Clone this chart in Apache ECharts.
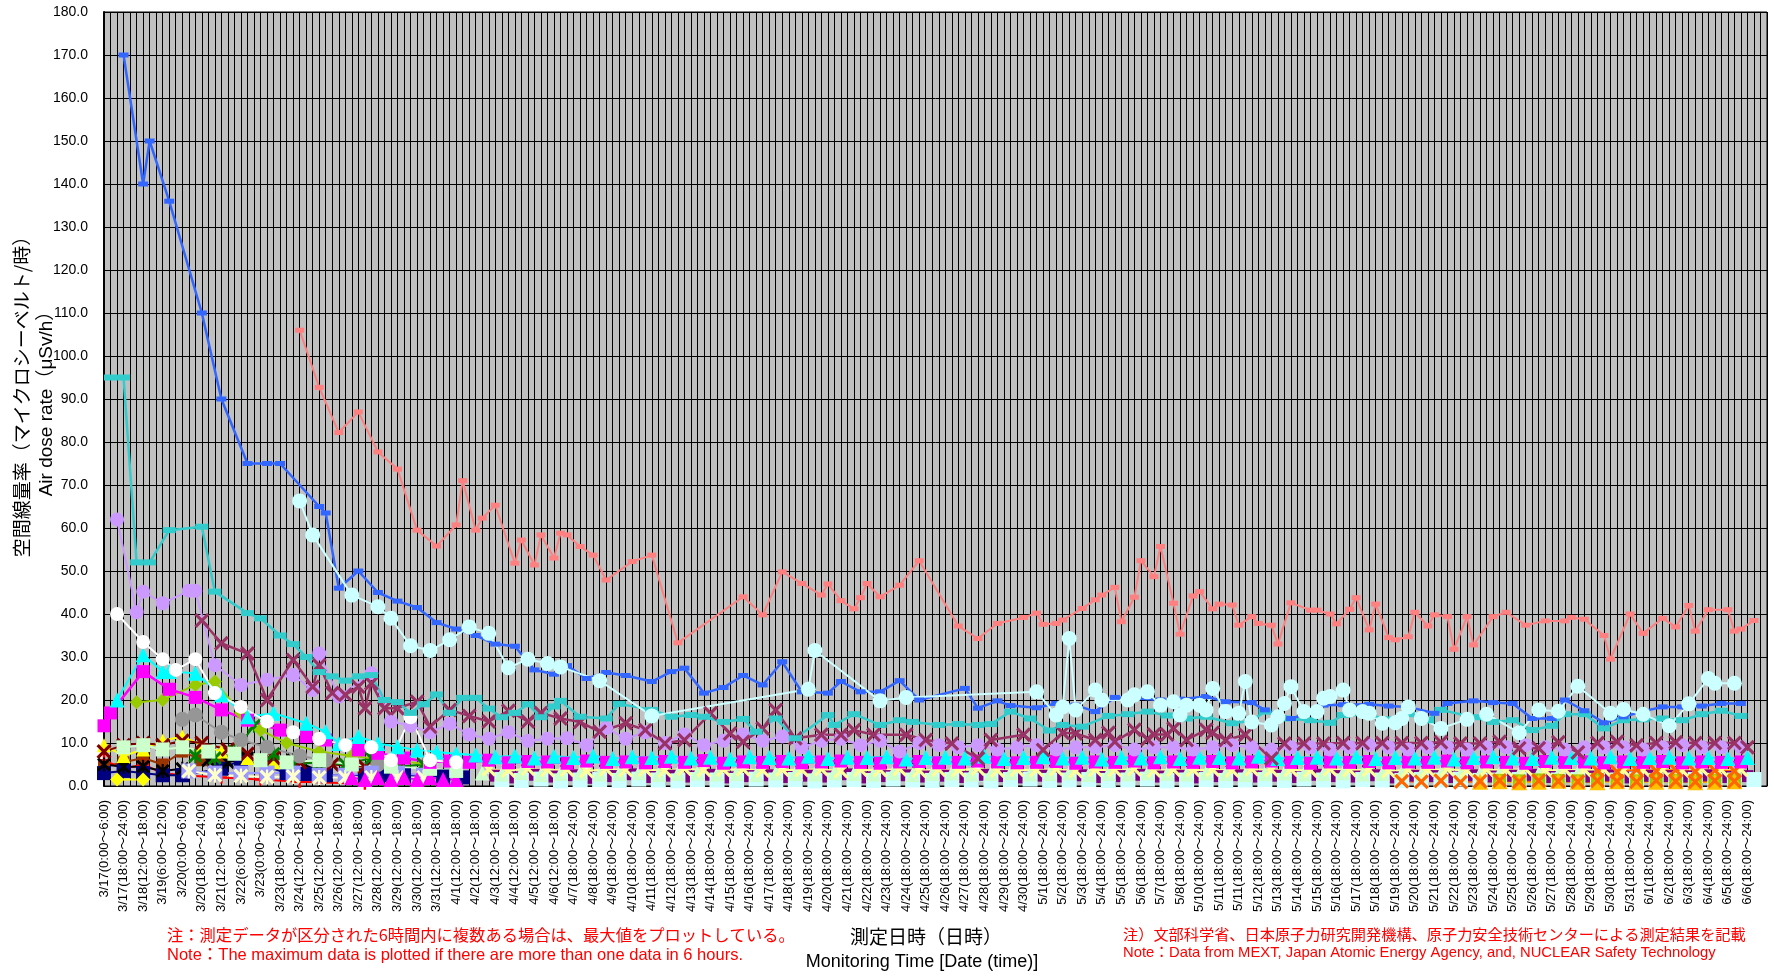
<!DOCTYPE html>
<html>
<head>
<meta charset="utf-8">
<title>空間線量率</title>
<script src="https://cdn.jsdelivr.net/npm/echarts@6/dist/echarts.min.js"></script>
<style>
  html, body { margin: 0; padding: 0; background: #fff; }
  #chart { width: 1774px; height: 976px; }
</style>
</head>
<body>
<div id="chart"></div>
<script>
// tick labels, one every 3 slots
const labels = [
  '3/17(0:00～6:00)', '3/17(18:00～24:00)', '3/18(12:00～18:00)', '3/19(6:00～12:00)', '3/20(0:00～6:00)',
  '3/20(18:00～24:00)', '3/21(12:00～18:00)', '3/22(6:00～12:00)', '3/23(0:00～6:00)', '3/23(18:00～24:00)',
  '3/24(12:00～18:00)', '3/25(12:00～18:00)', '3/26(12:00～18:00)', '3/27(12:00～18:00)', '3/28(12:00～18:00)',
  '3/29(12:00～18:00)', '3/30(12:00～18:00)', '3/31(12:00～18:00)', '4/1(12:00～18:00)', '4/2(12:00～18:00)',
  '4/3(12:00～18:00)', '4/4(12:00～18:00)', '4/5(12:00～18:00)', '4/6(12:00～18:00)', '4/7(18:00～24:00)',
  '4/8(18:00～24:00)', '4/9(18:00～24:00)', '4/10(18:00～24:00)', '4/11(18:00～24:00)', '4/12(18:00～24:00)',
  '4/13(18:00～24:00)', '4/14(18:00～24:00)', '4/15(18:00～24:00)', '4/16(18:00～24:00)', '4/17(18:00～24:00)',
  '4/18(18:00～24:00)', '4/19(18:00～24:00)', '4/20(18:00～24:00)', '4/21(18:00～24:00)', '4/22(18:00～24:00)',
  '4/23(18:00～24:00)', '4/24(18:00～24:00)', '4/25(18:00～24:00)', '4/26(18:00～24:00)', '4/27(18:00～24:00)',
  '4/28(18:00～24:00)', '4/29(18:00～24:00)', '4/30(18:00～24:00)', '5/1(18:00～24:00)', '5/2(18:00～24:00)',
  '5/3(18:00～24:00)', '5/4(18:00～24:00)', '5/5(18:00～24:00)', '5/6(18:00～24:00)', '5/7(18:00～24:00)',
  '5/8(18:00～24:00)', '5/10(18:00～24:00)', '5/11(18:00～24:00)', '5/11(18:00～24:00)', '5/12(18:00～24:00)',
  '5/13(18:00～24:00)', '5/14(18:00～24:00)', '5/15(18:00～24:00)', '5/16(18:00～24:00)', '5/17(18:00～24:00)',
  '5/18(18:00～24:00)', '5/19(18:00～24:00)', '5/20(18:00～24:00)', '5/21(18:00～24:00)', '5/22(18:00～24:00)',
  '5/23(18:00～24:00)', '5/24(18:00～24:00)', '5/25(18:00～24:00)', '5/26(18:00～24:00)', '5/27(18:00～24:00)',
  '5/28(18:00～24:00)', '5/29(18:00～24:00)', '5/30(18:00～24:00)', '5/31(18:00～24:00)', '6/1(18:00～24:00)',
  '6/2(18:00～24:00)', '6/3(18:00～24:00)', '6/4(18:00～24:00)', '6/5(18:00～24:00)', '6/6(18:00～24:00)'
];

// [slot index, µSv/h]
const blue = [[3,170],[6,140],[7,150],[10,136],[15,110],[18,90],[22,75],[25,75],[27,75],[33,65],[34,63.5],[36,46],[39,50],[42,45],[45,43],[48,41.5],[51,38],[54,36.5],[57,35],[60,33],[63,32.5],[66,27],[69,26],[71,28],[74,25],[77,26.4],[80,25.7],[84,24.3],[87,26.6],[89,27.4],[92,21.6],[95,22.9],[98,25.7],[101,23.5],[104,28.9],[107,21.9],[111,21.6],[113,24.3],[116,21.9],[119,21.9],[122,24.5],[125,20],[132,22.7],[134,18.1],[137,19.8],[139,18.7],[143,18.2],[146,19.2],[149,18.8],[152,17.3],[155,20.6],[158,20.4],[162,20],[165,20.2],[169,20.8],[172,19.6],[176,19.4],[178,17.7],[182,15.7],[185,17],[187,18.8],[190,18.9],[194,19],[197,18.6],[200,18.4],[204,16.9],[206,19.2],[210,19.8],[213,19.4],[216,19.2],[219,15.7],[222,15.7],[224,20],[227,17.5],[230,14.7],[233,16.1],[236,17.4],[239,18.4],[242,18.4],[245,18.6],[248,19.2],[251,19.2]];
const salmon = [[30,106],[33,92.7],[36,82.2],[39,87],[42,77.7],[45,73.7],[48,59.5],[51,55.8],[54,60.7],[55,71],[57,59.5],[58,62.3],[60,65.3],[63,51.8],[64,57.2],[66,51.4],[67,58.4],[69,53],[70,58.8],[71,58.4],[73,55.7],[75,53.7],[77,47.9],[81,52.2],[84,53.7],[88,33.3],[98,44],[101,39.8],[104,49.8],[107,47.1],[110,44.4],[111,47],[113,43.1],[115,41.2],[116,43.8],[117,47.1],[119,44],[122,46.7],[125,52.4],[131,37.2],[134,34.3],[137,37.8],[141,39.2],[143,40.2],[144,37.6],[146,37.8],[147,38.6],[150,41.3],[152,43.3],[153,44.4],[155,46.2],[156,38.2],[158,43.9],[159,52.4],[161,48.7],[162,55.7],[164,42.5],[165,35.3],[167,44.2],[168,45.2],[170,41.2],[171,42.3],[173,42.1],[174,37.4],[176,39.4],[177,37.8],[179,37.4],[180,33],[182,42.6],[185,40.9],[186,40.9],[188,40],[189,37.7],[191,41.1],[192,43.8],[194,36.3],[195,42.3],[197,34.5],[198,34],[200,34.7],[201,40.4],[203,37.2],[204,39.8],[206,39.4],[207,31.8],[209,39.4],[210,32.8],[213,39.4],[215,40.4],[218,37.4],[221,38.4],[224,38.4],[225,39.2],[227,38.8],[230,35],[231,29.5],[234,40],[236,35.5],[239,39],[241,37],[243,42],[244,36],[246,41],[249,41],[250,36],[251,36.5],[253,38.5]];
const teal = [[1,95],[3,95],[5,52],[7,52],[10,59.5],[15,60.3],[17,45.2],[22,40.2],[24,39],[27,35],[29,33],[31,30],[33,26.5],[35,25.5],[37,24.5],[39,25.5],[41,25.8],[43,20],[45,19.5],[47,17],[49,19],[51,21.3],[53,17],[55,20.5],[57,20.5],[59,18],[61,16],[63,17],[65,19],[67,16],[69,18.5],[70,19.8],[73,16.1],[77,15.7],[79,19.1],[84,17.7],[87,16.1],[90,16.5],[92,16.1],[95,14.9],[98,15.6],[100,12.6],[103,15.7],[106,11.1],[111,16.5],[112,14.2],[115,16.7],[119,14.2],[122,15.3],[124,14.9],[128,14.2],[131,14.4],[134,14.2],[136,14.4],[139,17.3],[142,15.7],[145,12.9],[147,14.2],[150,13.8],[154,16.3],[157,16.7],[160,17.3],[163,16.4],[166,15.7],[169,16.1],[173,14.6],[176,15.2],[178,17.3],[181,15.7],[185,15.3],[188,14.7],[190,16.5],[194,16.5],[197,15.5],[200,16.7],[203,15.3],[205,17.7],[210,16],[213,14.9],[216,15.3],[219,13],[222,14],[224,16.7],[227,16.7],[230,13.4],[233,15.3],[236,15.5],[239,15.7],[242,15.3],[245,16.7],[248,17.5],[251,16.3]];
const lightCyan = [[30,66.3],[32,58.4],[38,44.4],[42,41.7],[44,39],[47,32.6],[50,31.5],[53,34],[56,37],[59,35.5],[62,27.5],[65,29.5],[68,28.5],[70,27.7],[76,24.5],[84,16.3],[108,22.5],[109,31.5],[119,19.8],[123,20.6],[143,21.9],[146,16.5],[147,18.4],[148,34.3],[149,17.7],[152,22.3],[153,20],[157,20],[158,21.2],[160,21.9],[162,18.8],[164,19.6],[165,16.5],[166,18.8],[168,18.8],[169,17.7],[170,22.7],[172,17.3],[174,16.9],[175,24.3],[176,14.9],[179,14.2],[180,16.1],[181,19.2],[182,23.1],[184,17.3],[186,17.3],[187,20.4],[188,20.8],[190,22.3],[191,17.7],[193,17.3],[194,16.9],[196,14.6],[198,14.7],[199,15.7],[200,18.4],[202,15.7],[205,13.4],[209,15.5],[212,16.7],[217,12.4],[220,17.7],[223,17.4],[226,23.2],[231,16.9],[233,17.8],[236,16.7],[240,14],[243,19.1],[246,25],[247,23.9],[250,23.9]];
const whiteCircle = [[2,40],[6,33.5],[9,29.5],[11,27],[14,29.5],[17,21.6],[21,18.4],[25,15],[29,12.5],[33,11],[37,9.5],[41,9],[44,6],[47,16],[50,6],[54,5.5]];
const lavender = [[2,62],[5,40.4],[6,45.2],[9,42.5],[13,45.4],[14,45.4],[17,28.1],[21,23.5],[25,24.7],[29,25.8],[32,22.3],[33,30.8],[36,20.8],[41,26.2],[44,15],[47,14],[50,12.5],[53,14.5],[56,12],[59,11],[62,12.5],[65,10.5],[68,11],[71,11.1]];
const lavenderDaily = [9.5,13.5,11,12.5,10,12,9.5,10.5,12,10.5,11.5,9,10.5,11,9.5,10.5,8,10,9.5,9,9.5,8.5,9,9.5,8.5,9,9,9.5,8.5,9,9,8.5,9,9.5,9,8.5,9,9,8.5,9,9.5,9,8.5,9,9,8.5,9,9,9.5,9,8.5,9,9,9,8.5,9,9.5,9,9,9];
const maroon = [[15,38.5],[18,33.2],[22,30.8],[25,20],[29,29.3],[32,23.1],[33,28.1],[35,21.6],[37,21.2],[39,23.1],[40,18.1],[41,23.9],[43,18.1],[45,18.1],[48,19.6],[50,13.8],[53,17.7],[56,16.3],[59,15],[62,17.5],[65,15],[67,17],[70,15.7],[73,14.9],[76,12.6],[80,14.6],[83,13],[86,9.9],[89,10.7],[93,16.9],[96,12.2],[98,10.3],[101,13.4],[103,17.7],[106,11.1],[110,11.9],[113,11.9],[115,13],[118,11.9],[123,11.9],[126,10.7],[130,9.9],[134,6.4],[136,10.7],[141,11.9],[144,8.4],[147,12.4],[149,12.2],[152,10.7],[154,12.4],[155,10.3],[158,13.1],[160,10.9],[161,12],[163,12],[164,13.4],[166,10.7],[169,13.1],[170,12.4],[172,10.7],[175,11.9],[179,6.4],[181,9.9],[184,9.9],[187,9.9],[190,10],[193,10],[196,10],[199,10],[202,10],[205,10.2],[208,9.9],[211,9.9],[214,10.3],[217,8.8],[220,8.8],[223,10.2],[226,7.8],[229,10],[232,10.3],[235,9.5],[238,10],[241,10.2],[244,10],[247,10],[250,10],[252,9]];
const magenta = [[0,14],[1,17],[6,26.6],[10,22.5],[14,20.6],[18,17.7],[22,15.3],[27,13],[31,11.5],[34,10.7],[39,8.4],[42,7.6],[46,6.5],[50,5.5]];
const magentaDaily = [5.8,5.5,6.0,5.4,5.7,5.6,5.3,5.8,5.5,5.6,5.4,5.7,5.5,5.9,5.3,5.6,5.5,5.7,5.4,5.6,5.8,5.5,5.3,5.6,5.7,5.4,5.5,5.8,5.6,5.4,5.5,5.7,5.3,5.6,5.5,5.8,5.4,5.6,5.5,5.7,5.4,5.6,5.8,5.5,5.3,5.6,5.5,5.7,5.4,5.6,5.5,5.8,5.4,5.6,5.5,5.3,5.7,5.5,5.6,5.4,5.6,5.5,5.7,5.4,5.6,5.5,5.6];
const cyanTri = [[2,20],[6,30.5],[9,26.6],[10,26.6],[14,26.2],[18,21.2],[22,16.1],[26,16.9],[31,14.6],[34,12.6],[36,9.9],[39,11.5],[42,9.9],[45,9.1],[48,8.4],[51,7.9],[54,7.5]];
const cyanTriDaily = [7.2,6.8,7.0,6.5,6.9,6.6,7.0,6.4,6.8,6.6,6.9,6.5,6.7,6.3,6.8,6.6,6.5,6.9,6.4,6.7,6.6,6.8,6.3,6.6,6.7,6.5,6.9,6.4,6.6,6.8,6.5,6.7,6.3,6.6,6.5,6.8,6.4,6.7,6.6,6.5,6.9,6.4,6.6,6.7,6.5,6.8,6.4,6.6,6.5,6.7,6.3,6.6,6.8,6.5,6.4,6.7,6.6,6.5,6.8,6.4,6.6,6.7,6.5,6.6,6.4,6.6];

// low-level posts, early weeks
const grayCircle = [[12,15.5],[14,16.5],[18,12.5],[21,10.7],[25,9],[30,7],[34,6],[38,5.5],[42,5]];
const ygDiamond = [[5,19.5],[9,20],[14,23.5],[17,24.3],[21,17],[24,13],[28,10],[33,8],[38,7],[44,6],[50,5]];
const lightGreenSq = [[3,9],[6,9.5],[9,8.5],[12,9],[16,8],[20,7.5],[24,6],[28,5.5],[33,6],[38,5],[44,4.5],[50,4],[54,3.5]];
const darkRedX = [[0,8],[3,9.5],[6,10],[9,9.5],[12,10.5],[15,10],[19,8.5],[22,7.5],[26,6.5],[30,5.5],[35,5],[40,4.5],[45,4]];
const yellowTri = [[0,9.5],[3,7],[6,8.5],[9,10.5],[12,11.5],[15,9.5],[18,8],[22,6.5],[26,5.5]];
const blackAst = [[0,5],[3,4.5],[6,4.5],[9,3.5],[12,4],[16,6],[19,5.5],[22,6.5],[25,5],[29,6],[33,3.5]];
const greenAst = [[14,7],[17,6.5],[20,8],[23,14],[26,7.5],[29,5],[33,5.5],[37,5],[41,6.5],[45,4.5],[49,5]];
const redPlus = [[0,6],[3,4],[6,5],[9,3],[12,2.5],[18,2],[24,1.5],[30,1],[40,0.5]];
const brownSq = [[0,4.5],[3,5.5],[6,6.5],[9,5],[12,8],[15,6],[18,5]];
const navySq = [[0,3],[3,3.5],[6,3],[9,2.5],[12,2.5],[18,4],[21,6],[25,4.5],[28,3],[31,2.8],[34,2.5],[37,2.5],[40,2.5],[43,2.5],[46,2.5],[49,2.2],[52,2.2],[55,2]];
const yellowDia = [[2,1.5],[6,1.5]];
const lilacSq = [[13,3.5],[17,3],[21,3],[25,3],[29,3],[33,2.5],[37,2.5],[41,3],[45,3],[49,2.5]];
const creamAst = [[13,3.5],[17,2.5],[21,2.3],[25,2.1],[29,2.2],[33,2],[37,2],[41,2],[45,2],[49,2]];
const magentaTri = [[38,2],[40,1.5],[42,2],[44,1.5],[46,2],[48,1.5],[50,2],[52,1.5],[54,1.5]];

// low-level posts, daily from April on
const purpleDaily = [2.4,2.0,2.6,2.2,2.5,1.9,2.3,2.7,2.1,2.4,2.2,2.6,2.0,2.3,2.5,2.1,2.4,2.2,2.7,2.0,2.3,2.5,2.2,2.4,2.1,2.6,2.3,2.0,2.4,2.2,2.5,2.1,2.3,2.6,2.2,2.4,2.0,2.3,2.5,2.2,2.4,2.1,2.6,2.3,2.2,2.5,2.0,2.4,2.3,2.1,2.5,2.2,2.4,2.6,2.1,2.3,2.2,2.5,2.0,2.4,2.3,2.2,2.5,2.1,2.3];
const paleCyanDaily = [1.5,1.3,1.6,1.2,1.4,1.5,1.3,1.6,1.4,1.2,1.5,1.4,1.3,1.6,1.4,1.5,1.2,1.4,1.5,1.3,1.6,1.4,1.3,1.5,1.4,1.2,1.5,1.6,1.3,1.4,1.5,1.3,1.4,1.6,1.2,1.4,1.5,1.3,1.4,1.5,1.3,1.6,1.4,1.2,1.5,1.4,1.3,1.5,1.4,1.6,1.3,1.4,1.5,1.2,1.4,1.5,1.3,1.4,1.6,1.3,1.4,1.5,1.3,1.4,1.5];
const lightGreenDaily = [3.0,2.8,3.1,2.7,2.9,3.0,2.8,2.9,3.1,2.7,2.9,3.0,2.8,2.9,2.7,3.0,2.9,2.8,3.1,2.9,2.8,3.0,2.7,2.9,3.0,2.8,2.9,3.1,2.8,2.9,3.0,2.7,2.9,2.8,3.0,2.9,2.8,3.0,2.9,2.7,2.9,3.0,2.8,2.9,3.1,2.8,2.9,3.0,2.8,2.9,2.7,2.9,3.0,2.8,2.9,2.8,3.0,2.9,2.8,2.9,3.0,2.8,2.9,2.8,2.9];
const paleYellowDaily = [3.9,3.6,4.0,3.7,3.8,3.5,3.9,3.7,3.8,3.6,4.0,3.7,3.8,3.9,3.6,3.8,3.7,3.9,3.5,3.8,3.7,3.9,3.6,3.8,3.7,4.0,3.6,3.8,3.7,3.9,3.5,3.8,3.7,3.9,3.6,3.8,3.7,3.8,3.6,3.9,3.7,3.8,3.6,3.9,3.7,3.8,3.5,3.8,3.7,3.9,3.6,3.8,3.7,3.9,3.6,3.8,3.7,3.8,3.6,3.7,3.8,3.6,3.9,3.7,3.8];
const whiteBarDaily = [5.4,5.2,5.5,5.3,5.1,5.4,5.3,5.6,5.2,5.4,5.3,5.5,5.1,5.4,5.2,5.3,5.5,5.2,5.4,5.3,5.6,5.2,5.3,5.4,5.1,5.5,5.3,5.2,5.4,5.3,5.5,5.2,5.4,5.1,5.3,5.4,5.2,5.5,5.3,5.4,5.2,5.3,5.5,5.2,5.4,5.3,5.2];
const orangeXDaily = [1.1,1.0,1.2,0.9,1.1,1.3,1.0,1.2,1.1,1.0,1.2,1.1,1.0,1.3,1.1,1.0,1.2,1.1];
const orangeX2Daily = [3.6,3.3,3.8,3.5,3.7,3.4,3.6,3.5];
const goldTriDaily = [1.0,1.1,0.9,1.0,1.2,1.0,0.9,1.1,1.0,1.0,1.1,0.9,1.0,1.1];
const ygSqDaily = [1.3,1.2,1.4,1.3,1.2,1.5,1.3,1.2,1.4,1.3,1.2,1.3,1.4];

const X_PATH = 'path://M0,3L3,0L10,7L17,0L20,3L13,10L20,17L17,20L10,13L3,20L0,17L7,10Z';
const AST_PATH = 'path://M0,3L3,0L10,7L17,0L20,3L13,10L20,17L17,20L10,13L3,20L0,17L7,10ZM8.5,0L11.5,0L11.5,20L8.5,20Z';
const PLUS_PATH = 'path://M8,0L12,0L12,8L20,8L20,12L12,12L12,20L8,20L8,12L0,12L0,8L8,8Z';

// every label heads a group of three 6h slots, plus one trailing slot
const categories = [];
labels.forEach(function (l, i) {
  categories.push(l, i + '_b', i + '_c');
});
categories.push('end');

function daily(start, vals) {
  return vals.map(function (v, i) { return [start + i * 3, v]; });
}

function ser(name, data, color, symbol, size, width) {
  return {
    name: name,
    type: 'line',
    data: data,
    symbol: symbol,
    symbolSize: size,
    showAllSymbol: true,
    clip: false,
    animation: false,
    lineStyle: { color: color, width: width || 0, opacity: width ? 1 : 0 },
    itemStyle: { color: color, borderWidth: 0 },
    emphasis: { disabled: true }
  };
}

const chart = echarts.init(document.getElementById('chart'));
chart.setOption({
  animation: false,
  backgroundColor: '#ffffff',
  grid: {
    left: 104, right: 7, top: 12, bottom: 190,
    show: true, backgroundColor: '#C0C0C0', borderColor: '#000', borderWidth: 1
  },
  xAxis: {
    type: 'category',
    data: categories,
    boundaryGap: false,
    axisLine: { lineStyle: { color: '#000', width: 1 } },
    axisTick: { show: false },
    splitLine: { show: true, interval: 0, lineStyle: { color: '#000', width: 1 } },
    axisLabel: {
      interval: 2, rotate: 90, margin: 14, color: '#000',
      fontSize: 13, fontFamily: 'Liberation Sans, Noto Sans CJK JP',
      showMaxLabel: false, overflow: 'none'
    }
  },
  yAxis: {
    type: 'value',
    min: 0, max: 180, interval: 10,
    axisLine: { show: true, lineStyle: { color: '#000', width: 2 } },
    axisTick: { show: false },
    splitLine: { lineStyle: { color: '#000', width: 1 } },
    axisLabel: {
      margin: 16, color: '#000', fontSize: 14, fontFamily: 'Liberation Sans',
      formatter: function (v) { return v.toFixed(1); }
    }
  },
  graphic: [
    { type: 'text', x: 22, y: 392, rotation: Math.PI / 2,
      style: { text: '空間線量率（マイクロシーベルト/時）', fill: '#000', font: '19px "Noto Sans CJK JP"', align: 'center', verticalAlign: 'middle' } },
    { type: 'text', x: 47, y: 399, rotation: Math.PI / 2,
      style: { text: 'Air dose rate（μSv/h）', fill: '#000', font: '19px "Liberation Sans", "Noto Sans CJK JP"', align: 'center', verticalAlign: 'middle' } },
    { type: 'text', x: 926, y: 937,
      style: { text: '測定日時（日時）', fill: '#000', font: '19px "Noto Sans CJK JP"', align: 'center', verticalAlign: 'middle' } },
    { type: 'text', x: 922, y: 962,
      style: { text: 'Monitoring Time [Date (time)]', fill: '#000', font: '18px "Liberation Sans"', align: 'center', verticalAlign: 'middle' } },
    { type: 'text', x: 167, y: 935,
      style: { text: '注：測定データが区分された6時間内に複数ある場合は、最大値をプロットしている。', fill: '#FF0000', font: '16.3px "Noto Sans CJK JP"', align: 'left', verticalAlign: 'middle' } },
    { type: 'text', x: 167, y: 955,
      style: { text: 'Note：The maximum data is plotted if there are more than one data in 6 hours.', fill: '#FF0000', font: '16.5px "Liberation Sans", "Noto Sans CJK JP"', align: 'left', verticalAlign: 'middle' } },
    { type: 'text', x: 1123, y: 934,
      style: { text: '注）文部科学省、日本原子力研究開発機構、原子力安全技術センターによる測定結果を記載', fill: '#FF0000', font: '15.2px "Noto Sans CJK JP"', align: 'left', verticalAlign: 'middle' } },
    { type: 'text', x: 1123, y: 953,
      style: { text: 'Note：Data from MEXT, Japan Atomic Energy Agency, and, NUCLEAR Safety Technology', fill: '#FF0000', font: '14.8px "Liberation Sans", "Noto Sans CJK JP"', align: 'left', verticalAlign: 'middle' } }
  ],
  series: [
    // early low posts
    ser('brown', brownSq, '#993300', 'rect', 12, 2),
    ser('redPlus', redPlus, '#FF0000', PLUS_PATH, 12, 2),
    ser('navy', navySq, '#000080', 'rect', 14, 2),
    ser('black', blackAst, '#000000', AST_PATH, 14, 2),
    ser('yellowDia', yellowDia, '#FFFF00', 'diamond', 14, 2),
    ser('yellowTri', yellowTri, '#FFFF00', 'triangle', 14, 2),
    ser('darkRed', darkRedX, '#800000', X_PATH, 15, 2),
    ser('green', greenAst, '#008000', AST_PATH, 14, 2),
    ser('gray', grayCircle, '#969696', 'circle', 15, 2),
    ser('lilac', lilacSq, '#9999FF', 'rect', 15, 2),
    ser('cream', creamAst, '#FFFFCC', AST_PATH, 15, 2),
    ser('yellowgreen', ygDiamond, '#99CC00', 'diamond', 14, 2),
    ser('magentaTri', magentaTri, '#FF00FF', 'triangle', 15, 2),
    ser('lightGreen', lightGreenSq, '#CCFFCC', 'rect', 14, 2),
    // later low posts
    ser('purple', daily(60, purpleDaily), '#800080', 'rect', 12, 2),
    ser('paleCyan', daily(61, paleCyanDaily), '#CCFFFF', 'rect', 15, 2),
    ser('lightGreenTri', daily(58, lightGreenDaily), '#CCFFCC', 'triangle', 15, 2),
    ser('paleYellow', daily(59, paleYellowDaily), '#FFFF99', X_PATH, 15, 2),
    ser('whiteBar', daily(62, whiteBarDaily), '#FFFFFF', 'rect', [3, 10], 0),
    ser('ygSq', daily(214, ygSqDaily), '#99CC00', 'rect', 13, 2),
    ser('gold', daily(211, goldTriDaily), '#FFC000', 'triangle', 16, 2),
    ser('orange', daily(199, orangeXDaily), '#FF6600', X_PATH, 15, 2),
    ser('orange2', daily(229, orangeX2Daily), '#FF6600', X_PATH, 15, 2),
    // mid-level posts
    ser('magenta', magenta.concat(daily(53, magentaDaily)), '#FF00FF', 'rect', 13, 2.5),
    ser('cyanTri', cyanTri.concat(daily(57, cyanTriDaily)), '#00FFFF', 'triangle', 15, 2),
    ser('lavender', lavender.concat(daily(74, lavenderDaily)), '#CC99FF', 'circle', 14, 2),
    ser('maroon', maroon, '#993366', X_PATH, 15, 2.5),
    ser('white', whiteCircle, '#FFFFFF', 'circle', 14, 2),
    ser('teal', teal, '#33CCCC', 'rect', [13, 6], 2.5),
    ser('blue', blue, '#3366FF', 'rect', [10, 5], 2.5),
    ser('lightCyan', lightCyan, '#CCFFFF', 'circle', 15, 2),
    ser('salmon', salmon, '#FF8080', 'rect', [9, 5], 2)
  ]
});
</script>
</body>
</html>
